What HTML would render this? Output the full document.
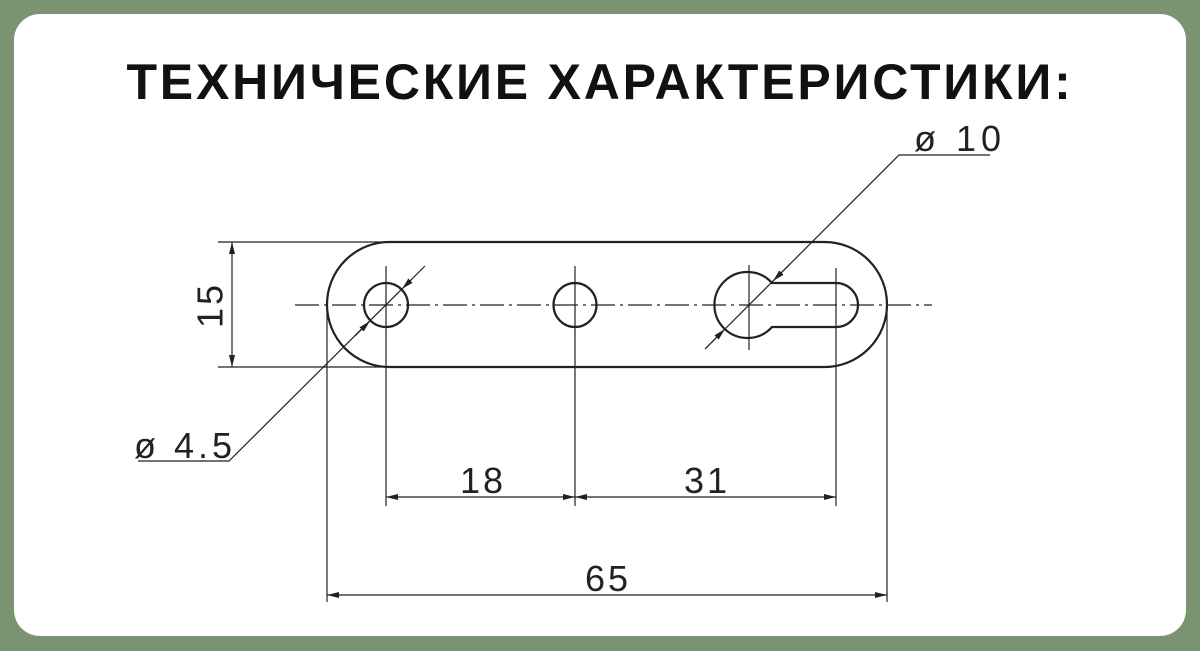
<!DOCTYPE html>
<html><head><meta charset="utf-8"><style>
html,body{margin:0;padding:0;background:#7a9472;}
body{width:1200px;height:651px;position:relative;overflow:hidden;}
.card{position:absolute;left:14px;top:14px;width:1172px;height:622px;background:#fff;border-radius:26px;}
h1{position:absolute;left:0;top:57px;width:1200px;margin:0;text-align:center;font-family:"Liberation Sans",sans-serif;font-weight:bold;font-size:50px;letter-spacing:2.8px;color:#111;line-height:1;}
svg{position:absolute;left:0;top:0;}
</style></head><body>
<div class="card"></div>
<h1>ТЕХНИЧЕСКИЕ ХАРАКТЕРИСТИКИ:</h1>
<svg width="1200" height="651" viewBox="0 0 1200 651">
<defs>
<marker id="a" viewBox="0 0 12 6" refX="12" refY="3" markerWidth="12" markerHeight="6" orient="auto-start-reverse" markerUnits="userSpaceOnUse"><path d="M0,0L12,3L0,6z" fill="#222"/></marker>
</defs>
<g stroke="#222" fill="none">
<path d="M389.5,242 H824.5 A62.5,62.5 0 0 1 824.5,367 H389.5 A62.5,62.5 0 0 1 389.5,242 Z" stroke-width="2.2"/>
<circle cx="386" cy="305" r="22" stroke-width="2.2"/>
<ellipse cx="575" cy="305" rx="21.5" ry="22" stroke-width="2.2"/>
<path d="M772,283 A33,33 0 1 0 772,327 H836 A22,22 0 0 0 836,283 Z" stroke-width="2.2"/>
<line x1="295" y1="305" x2="932" y2="305" stroke-width="1.2" stroke-dasharray="24,5,3,5"/>
<line x1="386" y1="266" x2="386" y2="506" stroke-width="1.2"/>
<line x1="575" y1="266" x2="575" y2="506" stroke-width="1.2"/>
<line x1="749" y1="265" x2="749" y2="350" stroke-width="1.2"/>
<line x1="836" y1="268" x2="836" y2="506" stroke-width="1.2"/>
<line x1="327" y1="305" x2="327" y2="602" stroke-width="1.2"/>
<line x1="887" y1="305" x2="887" y2="602" stroke-width="1.2"/>
<line x1="218" y1="242" x2="389" y2="242" stroke-width="1.2"/>
<line x1="218" y1="367" x2="389" y2="367" stroke-width="1.2"/>
<line x1="232" y1="242" x2="232" y2="367" stroke-width="1.2" marker-start="url(#a)" marker-end="url(#a)"/>
<line x1="386" y1="497" x2="575" y2="497" stroke-width="1.2" marker-start="url(#a)" marker-end="url(#a)"/>
<line x1="575" y1="497" x2="836" y2="497" stroke-width="1.2" marker-start="url(#a)" marker-end="url(#a)"/>
<line x1="327" y1="595" x2="887" y2="595" stroke-width="1.2" marker-start="url(#a)" marker-end="url(#a)"/>
<polyline points="425,266 229,461 138,461" stroke-width="1.2"/>
<line x1="411" y1="280" x2="402" y2="289" stroke-width="1.2" marker-end="url(#a)"/>
<line x1="355" y1="336" x2="370" y2="321" stroke-width="1.2" marker-end="url(#a)"/>
<polyline points="705,349 899,155 990,155" stroke-width="1.2"/>
<line x1="706" y1="348" x2="725" y2="329" stroke-width="1.2" marker-end="url(#a)"/>
<line x1="790" y1="264" x2="773" y2="281" stroke-width="1.2" marker-end="url(#a)"/>
</g>
<g font-family="Liberation Sans, sans-serif" font-size="36" fill="#222" letter-spacing="3">
<text x="213" y="305" text-anchor="middle" transform="rotate(-90 213 305)" dominant-baseline="middle">15</text>
<text x="483" y="493" text-anchor="middle">18</text>
<text x="707" y="493" text-anchor="middle">31</text>
<text x="608" y="591" text-anchor="middle">65</text>
<text x="134" y="458" letter-spacing="4">ø 4.5</text>
<text x="914" y="151" letter-spacing="5">ø 10</text>
</g>
</svg>
</body></html>
